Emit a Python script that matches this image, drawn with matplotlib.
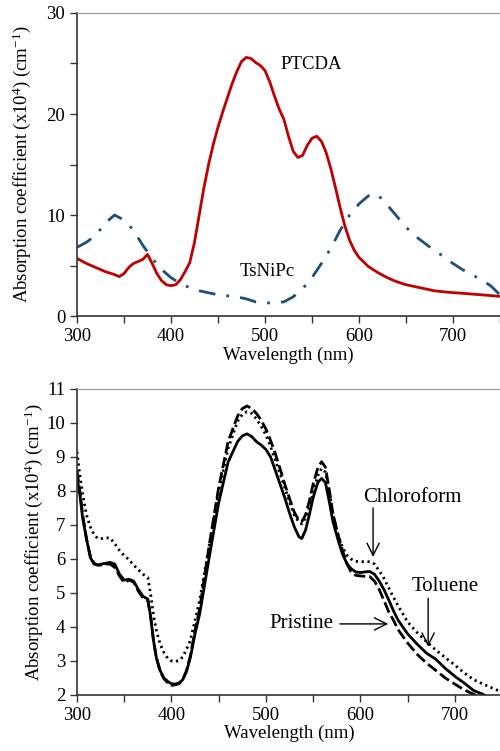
import numpy as np
import matplotlib
matplotlib.use("Agg")
import matplotlib.pyplot as plt
from matplotlib.ticker import MultipleLocator

plt.rcParams['font.family'] = ['Liberation Serif', 'DejaVu Serif']
plt.rcParams['mathtext.fontset'] = 'custom'
plt.rcParams['mathtext.rm'] = 'Liberation Serif'
plt.rcParams['mathtext.it'] = 'Liberation Serif:italic'

#---------------------- data: top panel ----------------------
wl_ptcda = [300, 310, 320, 330, 340, 345, 350, 355, 360, 365, 370, 375, 380, 385,
            390, 395, 400, 405, 410, 415, 420, 425, 430, 435, 440, 445, 450, 455,
            460, 465, 470, 475, 480, 485, 490, 495, 500, 505, 510, 515, 520, 525,
            530, 535, 540, 545, 550, 555, 560, 565, 570, 575, 580, 585, 590, 595,
            600, 610, 620, 630, 640, 650, 665, 680, 695, 710, 730, 750]
ptcda = [5.7, 5.2, 4.8, 4.4, 4.1, 3.9, 4.2, 4.8, 5.2, 5.4, 5.6, 6.1, 5.2, 4.2,
         3.5, 3.1, 3.0, 3.1, 3.6, 4.4, 5.3, 7.3, 10.0, 12.7, 15.0, 17.0, 18.7, 20.2,
         21.6, 23.0, 24.2, 25.2, 25.6, 25.5, 25.1, 24.8, 24.3, 23.2, 21.8, 20.5, 19.5, 17.8,
         16.3, 15.7, 15.9, 16.9, 17.6, 17.8, 17.3, 16.2, 14.6, 12.7, 10.7, 8.9, 7.5, 6.5,
         5.8, 4.9, 4.3, 3.8, 3.4, 3.1, 2.8, 2.5, 2.35, 2.25, 2.1, 1.95]

wl_tsnipc = [300, 310, 320, 330, 340, 350, 360, 370, 380, 390, 400, 410, 420, 430,
             440, 450, 460, 470, 480, 490, 500, 510, 520, 530, 540, 550, 560, 570,
             580, 590, 600, 610, 615, 620, 630, 640, 650, 660, 670, 680, 690, 700,
             710, 720, 730, 740, 750]
tsnipc = [6.8, 7.3, 8.0, 9.2, 10.0, 9.5, 8.5, 7.0, 5.7, 4.6, 3.8, 3.2, 2.8, 2.5,
          2.3, 2.1, 2.0, 1.9, 1.7, 1.4, 1.3, 1.3, 1.4, 1.9, 2.7, 3.8, 5.2, 6.7,
          8.5, 10.0, 11.1, 11.9, 12.1, 12.0, 11.0, 9.9, 8.8, 7.9, 7.2, 6.5, 5.9, 5.2,
          4.6, 4.1, 3.6, 3.0, 2.1]

#---------------------- data: bottom panel ----------------------
wl_film = [300, 303, 306, 310, 314, 318, 322, 326, 330, 335, 340, 345, 350, 355,
           360, 365, 370, 375, 378, 381, 384, 388, 392, 396, 400, 404, 408, 412,
           416, 420, 425, 430, 440, 450, 460, 470, 475, 480, 485, 490, 495, 500,
           505, 510, 515, 520, 525, 530, 535, 538, 542, 546, 550, 555, 559, 563,
           567, 571, 576, 581, 586, 590, 595, 600, 605, 610, 615, 620, 625, 630,
           635, 640, 650, 660, 670, 680, 690, 700, 710, 720, 730, 740, 750]
solid_film = [8.4, 7.9, 7.2, 6.6, 6.05, 5.85, 5.82, 5.85, 5.87, 5.9, 5.85, 5.55, 5.38, 5.4,
              5.35, 5.1, 4.9, 4.82, 4.3, 3.6, 3.1, 2.72, 2.5, 2.4, 2.33, 2.32, 2.35, 2.45,
              2.7, 3.1, 3.8, 4.4, 6.05, 7.65, 8.85, 9.45, 9.62, 9.68, 9.6, 9.45, 9.35, 9.22,
              9.0, 8.6, 8.2, 7.8, 7.35, 6.95, 6.65, 6.6, 6.85, 7.3, 7.8, 8.25, 8.37, 8.25,
              7.7, 7.1, 6.6, 6.15, 5.85, 5.72, 5.62, 5.6, 5.62, 5.63, 5.55, 5.35, 5.1, 4.8,
              4.48, 4.2, 3.8, 3.5, 3.23, 3.05, 2.78, 2.55, 2.35, 2.13, 2.02, 1.85, 1.7]
dashed_film = [8.6, 8.0, 7.3, 6.6, 6.1, 5.88, 5.82, 5.82, 5.85, 5.85, 5.75, 5.5, 5.3, 5.38,
               5.32, 5.05, 4.85, 4.78, 4.3, 3.6, 3.1, 2.7, 2.48, 2.36, 2.28, 2.3, 2.33, 2.45,
               2.72, 3.15, 3.9, 4.55, 6.4, 8.1, 9.45, 10.2, 10.42, 10.5, 10.42, 10.28, 10.08, 9.82,
               9.48, 9.1, 8.65, 8.2, 7.78, 7.38, 7.13, 7.1, 7.3, 7.7, 8.2, 8.68, 8.86, 8.7,
               8.05, 7.34, 6.75, 6.26, 5.85, 5.63, 5.52, 5.5, 5.49, 5.48, 5.35, 5.1, 4.78, 4.45,
               4.2, 3.92, 3.53, 3.2, 2.94, 2.72, 2.5, 2.32, 2.15, 2.02, 1.9, 1.78, 1.65]
dotted_film = [9.15, 8.45, 7.9, 7.3, 6.95, 6.72, 6.6, 6.6, 6.62, 6.62, 6.45, 6.25, 6.1, 5.98,
               5.82, 5.68, 5.55, 5.45, 4.95, 4.35, 3.9, 3.5, 3.25, 3.08, 3.0, 2.98, 3.02, 3.12,
               3.35, 3.6, 4.2, 4.8, 6.4, 8.0, 9.25, 10.05, 10.25, 10.33, 10.28, 10.12, 9.9, 9.65,
               9.3, 8.9, 8.5, 8.1, 7.68, 7.3, 7.08, 7.03, 7.2, 7.5, 7.95, 8.45, 8.66, 8.55,
               8.0, 7.3, 6.75, 6.35, 6.1, 6.0, 5.93, 5.92, 5.92, 5.92, 5.85, 5.65, 5.43, 5.15,
               4.88, 4.62, 4.15, 3.84, 3.57, 3.32, 3.1, 2.88, 2.65, 2.45, 2.32, 2.2, 2.08]

YLABEL = r'Absorption coefficient (x10$^{4}$) (cm$^{-1}$)'
RED = '#C00000'
BLUE = '#1F4E79'


def style_axes(ax, ymin, ymax, ymajor, ylabel_step):
    ax.set_xlim(300, 750)
    ax.set_ylim(ymin, ymax)
    ax.set_xticks(np.arange(300, 751, 50))
    ax.set_xticklabels([str(v) if v % 100 == 0 else '' for v in range(300, 751, 50)])
    yt = np.arange(ymin, ymax + 0.01, ymajor)
    ax.set_yticks(yt)
    ax.set_yticklabels([('%g' % v) if round(v) % ylabel_step == 0 else '' for v in yt])
    ax.tick_params(direction='out', length=5, width=1, labelsize=13.5, color='#333333')
    for s in ['left', 'bottom']:
        ax.spines[s].set_color('#333333')
        ax.spines[s].set_linewidth(1.2)
    ax.spines['top'].set_color('#999999')
    ax.spines['right'].set_visible(False)
    ax.set_xlabel('Wavelength (nm)', fontsize=13.5, labelpad=1)
    ax.set_ylabel(YLABEL, fontsize=13.5)


fig = plt.figure(figsize=(5.0, 7.51), dpi=100)

#---------------------- top panel ----------------------
ax1 = fig.add_axes([0.154, 0.5792, 0.846, 0.4035])
ax1.plot(wl_ptcda, ptcda, color=RED, lw=2.0, solid_capstyle='round')
ax1.plot(wl_tsnipc, tsnipc, color=BLUE, lw=2.0, linestyle=(0, (6, 4, 1, 4)))
style_axes(ax1, 0, 30, 5, 10)
ax1.yaxis.set_label_coords(-0.104, 0.5)
ax1.text(516, 24.9, 'PTCDA', fontsize=13.5, va='center', ha='left')
ax1.text(473, 4.4, 'TsNiPc', fontsize=13.5, va='center', ha='left')

#---------------------- bottom panel ----------------------
ax2 = fig.add_axes([0.154, 0.0746, 0.85, 0.4075])
ax2.plot(wl_film, solid_film, color='black', lw=2.0)
ax2.plot(wl_film, dashed_film, color='black', lw=2.0, linestyle=(0, (4, 1.5)))
ax2.plot(wl_film, dotted_film, color='black', lw=2.0, linestyle=(0, (0.8, 1.3)))
style_axes(ax2, 2, 11, 1, 1)
ax2.yaxis.set_label_coords(-0.075, 0.5)

arrow = dict(arrowstyle='->', lw=1.0, color='black', mutation_scale=22,
             shrinkA=0, shrinkB=0)
ax2.text(602.5, 7.82, 'Chloroform', fontsize=15, va='center', ha='left')
ax2.annotate('', xy=(613.5, 6.06), xytext=(613.5, 7.5), arrowprops=arrow)
ax2.text(654, 5.19, 'Toluene', fontsize=15, va='center', ha='left')
ax2.annotate('', xy=(671.8, 3.42), xytext=(671.8, 4.84), arrowprops=arrow)
ax2.text(504, 4.09, 'Pristine', fontsize=15, va='center', ha='left')
ax2.annotate('', xy=(629.5, 4.09), xytext=(578.3, 4.09), arrowprops=arrow)

fig.savefig('out.png', dpi=100)
